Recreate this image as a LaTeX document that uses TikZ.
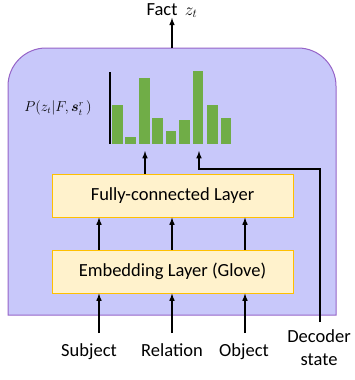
\documentclass[tikz,border=0pt]{standalone}
\usepackage{fontspec}
\usepackage{amsmath}
\setmainfont{Carlito}
\usetikzlibrary{arrows}
\definecolor{outerfill}{RGB}{200,200,250}
\definecolor{outerline}{RGB}{150,100,200}
\definecolor{layerfill}{RGB}{255,242,204}
\definecolor{layerline}{RGB}{255,192,0}
\definecolor{bargreen}{RGB}{112,173,71}

\begin{document}
\begin{tikzpicture}[x=1pt,y=-1pt,>=latex,
    layer/.style={draw=layerline,fill=layerfill,line width=1pt,minimum width=241pt,minimum height=43pt,font=\fontsize{18.5}{21}\selectfont},
    lbl/.style={font=\fontsize{18.5}{23}\selectfont,inner sep=0pt},
    conn/.style={->,line width=1.5pt}]
  \useasboundingbox (0,0) rectangle (354,380);
  % outer block
  \draw[draw=outerline,fill=outerfill,line width=1pt] (8,315) [rounded corners=38pt] -- (8,48) -- (336,48) [sharp corners] -- (336,315) -- cycle;
  \node[layer] (fc) at (172.5,195.5) {Fully-connected Layer};
  \node[layer] (emb) at (172.5,271.5) {Embedding Layer (Glove)};
  \node[lbl,anchor=base] (fact) at (172,15) {Fact\, $z_t$};
  \node[lbl,font=\fontsize{13.5}{16}\selectfont] (prob) at (58,108) {$P(z_t|F,\boldsymbol{s}_t^r\,)$};
  \node[lbl,anchor=base] (subj) at (89,356) {Subject};
  \node[lbl,anchor=base] (rel) at (172,356) {Relation};
  \node[lbl,anchor=base] (obj) at (244,356) {Object};
  \node[lbl,align=center,anchor=north] (dec) at (319,329) {Decoder\\state};
  % histogram
  \fill[bargreen] (112,144) rectangle (123,105);
  \fill[bargreen] (125,144) rectangle (136,137);
  \fill[bargreen] (139,144) rectangle (150,78);
  \fill[bargreen] (152,144) rectangle (163,118);
  \fill[bargreen] (166,144) rectangle (176,131);
  \fill[bargreen] (179,144) rectangle (190,120);
  \fill[bargreen] (193,144) rectangle (203,71);
  \fill[bargreen] (207,144) rectangle (218,105);
  \fill[bargreen] (221,144) rectangle (231,118);
  \draw[line width=1.2pt] (110,72) -- (110,144);
  \coordinate (top) at (172,48);
  \coordinate (h1) at (145,151);
  \coordinate (h2) at (199,151);
  \coordinate (bend) at (199,169);
  \coordinate (decin) at (320,322);
  \coordinate (subjin) at (99,333);
  \coordinate (relin) at (172,333);
  \coordinate (objin) at (245,333);
  % connectors
  \draw[conn] (top) -- (fact);
  \draw[conn] (fc.north -| h1) -- (h1);
  \draw[conn] (decin) |- (bend) -- (h2);
  \draw[conn] (emb.north -| subjin) -- (fc.south -| subjin);
  \draw[conn] (emb.north -| relin) -- (fc.south -| relin);
  \draw[conn] (emb.north -| objin) -- (fc.south -| objin);
  \draw[conn] (subjin) -- (emb.south -| subjin);
  \draw[conn] (relin) -- (emb.south -| relin);
  \draw[conn] (objin) -- (emb.south -| objin);
\end{tikzpicture}
\end{document}
